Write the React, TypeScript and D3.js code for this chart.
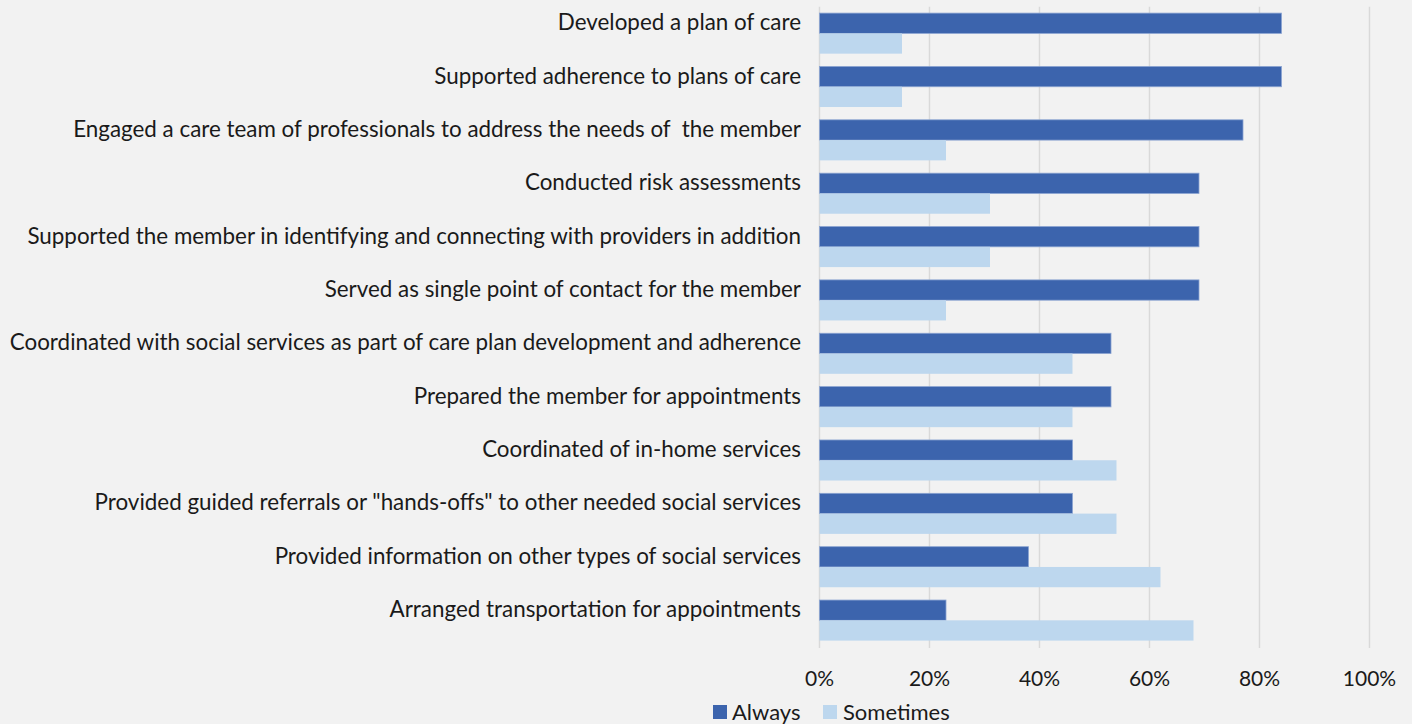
import React from "react";
import * as d3 from "d3";

const categories = [
  "Developed a plan of care",
  "Supported adherence to plans of care",
  "Engaged a care team of professionals to address the needs of  the member",
  "Conducted risk assessments",
  "Supported the member in identifying and connecting with providers in addition",
  "Served as single point of contact for the member",
  "Coordinated with social services as part of care plan development and adherence",
  "Prepared the member for appointments",
  "Coordinated of in-home services",
  'Provided guided referrals or "hands-offs" to other needed social services',
  "Provided information on other types of social services",
  "Arranged transportation for appointments",
];
const always = [84, 84, 77, 69, 69, 69, 53, 53, 46, 46, 38, 23];
const sometimes = [15, 15, 23, 31, 31, 23, 46, 46, 54, 54, 62, 68];
const seriesNames = ["Always", "Sometimes"];
const xTicks = [0, 20, 40, 60, 80, 100];

const W = 1412;
const H = 724;
const FONT = "Lato, 'Open Sans', sans-serif";
const COLORS = ["#3C64AD", "#BDD7EE"];

export default function App() {
  const x = d3.scaleLinear().domain([0, 100]).range([819.5, 1369.5]);
  const y = d3
    .scaleBand<string>()
    .domain(categories)
    .range([6.7, 647])
    .paddingInner(0.24)
    .paddingOuter(0.12);
  const sub = d3.scaleBand<string>().domain(seriesNames).range([0, y.bandwidth()]);
  const data = [always, sometimes];

  return (
    <svg
      width={W}
      height={H}
      style={{ position: "absolute", left: 0, top: 0, background: "#F2F2F2", fontFamily: FONT }}
    >
      <rect x={0} y={0} width={W} height={H} fill="#F2F2F2" />
      {xTicks.map((t) => (
        <line
          key={t}
          x1={x(t)}
          x2={x(t)}
          y1={6.7}
          y2={648}
          stroke="#D9D9D9"
          strokeWidth={1.4}
        />
      ))}
      {categories.map((c, i) => (
        <g key={c}>
          {seriesNames.map((s, j) => (
            <rect
              key={s}
              x={x(0)}
              y={(y(c) as number) + (sub(s) as number)}
              width={x(data[j][i]) - x(0)}
              height={sub.bandwidth()}
              fill={COLORS[j]}
              stroke={j === 0 ? "#8AA3D1" : "none"}
              strokeWidth={j === 0 ? 0.8 : 0}
            />
          ))}
          <text
            x={801}
            y={(y(c) as number) + sub.bandwidth() / 2 - 1.5}
            textAnchor="end"
            dominantBaseline="central"
            fontSize={22.4}
            fill="#1A1A1A"
            style={{ whiteSpace: "pre" }}
          >
            {c}
          </text>
        </g>
      ))}
      {xTicks.map((t) => (
        <text
          key={t}
          x={x(t)}
          y={677}
          textAnchor="middle"
          dominantBaseline="central"
          fontSize={21}
          fill="#1A1A1A"
        >
          {t + "%"}
        </text>
      ))}
      <g>
        <rect x={713} y={705} width={14} height={14} fill={COLORS[0]} />
        <text x={732} y={711} dominantBaseline="central" fontSize={22} fill="#1A1A1A">
          {seriesNames[0]}
        </text>
        <rect x={823} y={705} width={14} height={14} fill={COLORS[1]} />
        <text x={843} y={711} dominantBaseline="central" fontSize={22} fill="#1A1A1A">
          {seriesNames[1]}
        </text>
      </g>
    </svg>
  );
}
